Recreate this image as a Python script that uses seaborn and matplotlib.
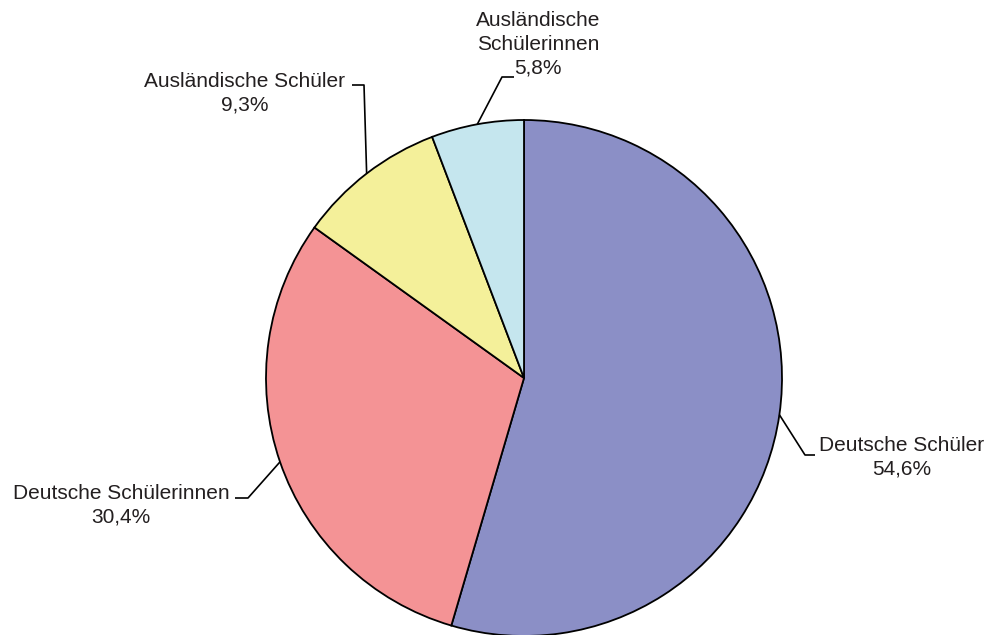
import numpy as np
import matplotlib
matplotlib.use('Agg')
import matplotlib.pyplot as plt
import seaborn as sns

# Data
labels = ['Deutsche Schüler', 'Deutsche Schülerinnen', 'Ausländische Schüler', 'Ausländische\nSchülerinnen']
shares = [54.6, 30.4, 9.3, 5.8]
colors = ['#8b8fc6', '#f49395', '#f4f09a', '#c5e6ee']

# label placement in pixel coords (x, y from top): text centre, elbow, line end
text_pos = [(902, 457), (121, 505), (245, 93), (538, 44)]
elbows = [(805, 455), (248, 498), (364, 85), (502, 77)]
ends = [(815, 455), (235, 498), (352, 85), (514, 77)]

sns.set_theme(style='white')
plt.rcParams['font.family'] = ['Liberation Sans', 'DejaVu Sans']

W, H = 992, 635
fig = plt.figure(figsize=(W / 100, H / 100), dpi=100)
ax = fig.add_axes([0, 0, 1, 1])
ax.set_xlim(0, W)
ax.set_ylim(0, H)
ax.set_aspect('equal')
ax.axis('off')

cx, cy, r = 524, H - 378, 258
wedges, _ = ax.pie(shares, colors=colors, startangle=90, counterclock=False,
                   center=(cx, cy), radius=r,
                   wedgeprops=dict(edgecolor='black', linewidth=1.3))
ax.set_xlim(0, W)
ax.set_ylim(0, H)

for w, lab, val, tp, el, en in zip(wedges, labels, shares, text_pos, elbows, ends):
    mid = np.deg2rad((w.theta1 + w.theta2) / 2)
    px, py = cx + r * np.cos(mid), cy + r * np.sin(mid)
    ax.plot([px, el[0], en[0]], [py, H - el[1], H - en[1]], color='black', lw=1.2,
            solid_capstyle='butt', zorder=3)
    txt = lab + '\n' + f'{val:.1f}'.replace('.', ',') + '%'
    ax.text(tp[0], H - tp[1], txt, ha='center', va='center', multialignment='center',
            fontsize=15, color='#231f20', linespacing=1.32)

fig.savefig('out.png', dpi=100)
